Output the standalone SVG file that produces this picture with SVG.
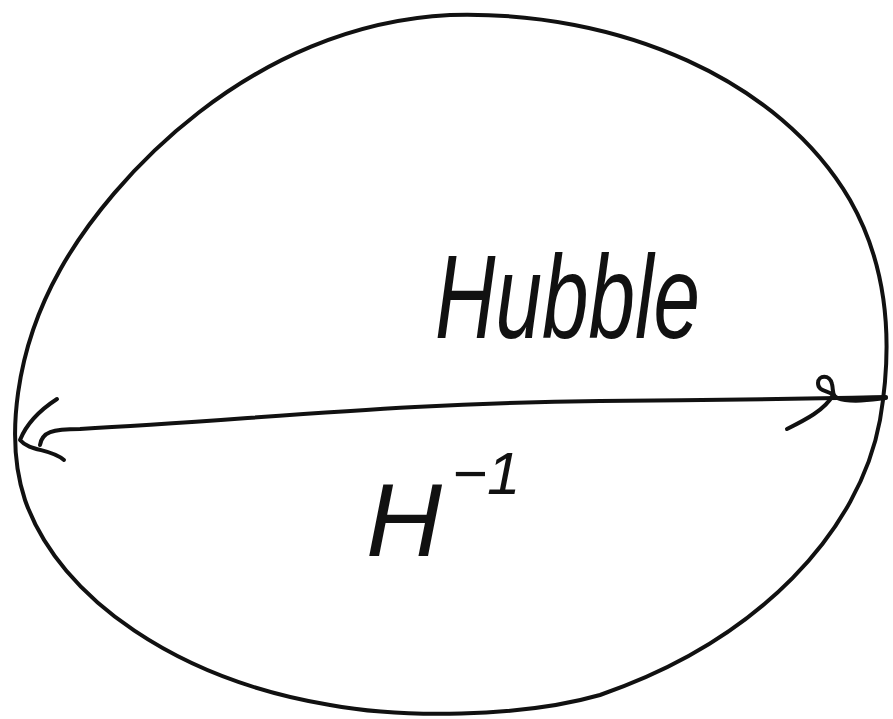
<svg xmlns="http://www.w3.org/2000/svg" width="893" height="719" viewBox="0 0 893 719">
<style>
.ink{fill:none;stroke:#111;stroke-width:4;stroke-linecap:round;stroke-linejoin:round}
.hand{font-family:"Liberation Sans","DejaVu Sans",sans-serif;font-style:italic;fill:#111}
</style>
<rect width="893" height="719" fill="#fff"/>
<path class="ink" d="M450 15 C620 10 780 80 850 200 C890 270 892 350 880 420 C860 530 760 640 600 695 C520 718 400 718 330 705 C180 680 60 600 25 500 C5 440 15 350 60 270 C110 180 250 25 450 15 Z"/>
<g id="arrow">
<path class="ink" d="M40 445 C42 432 52 429 80 429 C250 420 400 403 600 401 C750 400 830 398 886 397"/>
<path class="ink" d="M57 399 C40 410 26 425 20 440 C30 452 50 448 64 460"/>
<path class="ink" d="M787 429 C805 420 825 410 833 395 C828 390 818 392 818 383 C818 375 830 374 832 384 C834 392 830 398 845 400 C860 402 870 400 886 398"/>
</g>
<text class="hand" x="435" y="338" font-size="118" textLength="265" lengthAdjust="spacingAndGlyphs">Hubble</text>
<text class="hand" x="366" y="556" font-size="104" textLength="76" lengthAdjust="spacingAndGlyphs">H</text>
<text class="hand" x="452" y="494" font-size="60">−1</text>
</svg>
